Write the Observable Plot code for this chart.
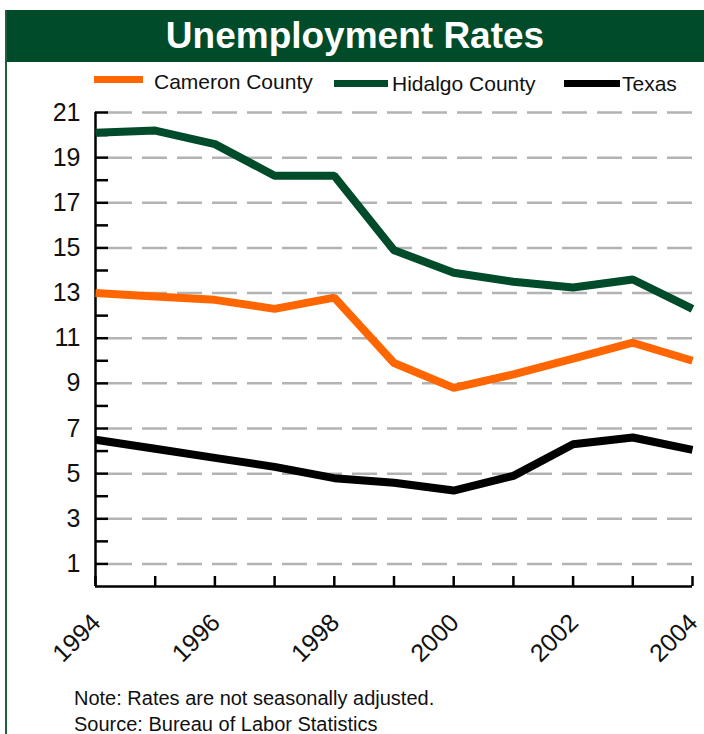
<!DOCTYPE html>
<html><head><meta charset="utf-8">
<script src="https://cdn.jsdelivr.net/npm/d3@7"></script>
<script src="https://cdn.jsdelivr.net/npm/@observablehq/plot@0.6"></script>
<style>
body{margin:0;background:#fff;font-family:"Liberation Sans",Arial,sans-serif;}
#wrap{position:relative;width:704px;height:734px;overflow:hidden;background:#fff;}
#chart{position:absolute;left:0;top:90px;}
#titlebar{position:absolute;left:5px;top:10px;width:720px;height:52px;background:#004B2A;z-index:2;}
#titlebar div{position:absolute;left:0;top:0;width:700px;text-align:center;color:#fff;font-weight:bold;font-size:37px;line-height:52px;}
#border{position:absolute;left:5px;top:10px;width:2px;height:724px;background:#1f5f3d;z-index:2;}
.sw{position:absolute;height:7px;z-index:2;}
.lt{position:absolute;font-size:21px;line-height:21px;color:#111;z-index:2;white-space:nowrap;}
.note{position:absolute;left:74px;font-size:20px;line-height:20px;color:#111;white-space:nowrap;}
</style></head>
<body>
<div id="wrap">
  <div id="titlebar"><div>Unemployment Rates</div></div>
  <div id="border"></div>
  <div class="sw" style="left:94px;top:76px;width:49px;background:#FF6600"></div>
  <div class="lt" style="left:154px;top:71px">Cameron County</div>
  <div class="sw" style="left:334px;top:80px;width:54px;background:#004B2A"></div>
  <div class="lt" style="left:392px;top:73px">Hidalgo County</div>
  <div class="sw" style="left:564px;top:80px;width:56px;background:#000"></div>
  <div class="lt" style="left:622px;top:73px">Texas</div>
  <div id="chart"></div>
  <div class="note" style="top:688px">Note: Rates are not seasonally adjusted.</div>
  <div class="note" style="top:714px">Source: Bureau of Labor Statistics</div>
</div>
<script>
const years = [1994,1995,1996,1997,1998,1999,2000,2001,2002,2003,2004];
const cameron = [13.0,12.85,12.7,12.3,12.8,9.9,8.8,9.4,10.1,10.8,10.0];
const hidalgo = [20.1,20.2,19.6,18.2,18.2,14.9,13.9,13.5,13.25,13.6,12.3];
const texas = [6.5,6.1,5.7,5.3,4.8,4.6,4.25,4.9,6.3,6.6,6.05];
const seriesNames = ["Cameron County","Hidalgo County","Texas"];
const seriesColors = ["#FF6600","#004B2A","#000000"];
const yLabelTicks = [1,3,5,7,9,11,13,15,17,19,21];
const yAllTicks = [1,2,3,4,5,6,7,8,9,10,11,12,13,14,15,16,17,18,19,20,21];
const xLabelTicks = [1994,1996,1998,2000,2002,2004];

const data = [];
const order = [["Hidalgo County", hidalgo],["Cameron County", cameron],["Texas", texas]];
for (const [name, vals] of order) years.forEach((yr,i)=>data.push({series:name, year:yr, value:vals[i]}));

const plot = Plot.plot({
  width: 704, height: 600,
  marginTop: 22, marginBottom: 104, marginLeft: 95, marginRight: 12,
  style: {fontFamily: '"Liberation Sans", Arial, sans-serif', color: "#111", background: "transparent", overflow: "visible"},
  x: {type: "linear", domain: [1994, 2004], label: null},
  y: {domain: [0, 21], label: null},
  color: {domain: seriesNames, range: seriesColors},
  marks: [
    Plot.ruleY(yLabelTicks, {x1: 1994, x2: 2004, stroke: "#b3b3b3", strokeWidth: 2.5, strokeDasharray: "25,10", strokeDashoffset: -12}),
    Plot.axisY({ticks: yAllTicks, tickSize: -13, tickFormat: () => "", stroke: "#000", strokeWidth: 2.5, label: null}),
    Plot.axisY({ticks: yLabelTicks, tickSize: 0, tickPadding: 15, fontSize: 25, fill: "#111", label: null}),
    Plot.axisX({ticks: years, tickSize: -10, tickFormat: () => "", stroke: "#000", strokeWidth: 2.5, label: null}),
    Plot.axisX({ticks: xLabelTicks, tickSize: 0, tickPadding: 32, tickRotate: -45, fontSize: 25, dx: 1, tickFormat: d => String(d), fill: "#111", label: null}),
    Plot.ruleX([1994], {y1: 0, y2: 21, stroke: "#000", strokeWidth: 2.5}),
    Plot.ruleY([0], {x1: 1994, x2: 2004, stroke: "#000", strokeWidth: 2.5}),
    Plot.line(data, {x: "year", y: "value", z: "series", stroke: "series", strokeWidth: 8, strokeLinejoin: "miter", strokeLinecap: "butt"})
  ]
});
document.getElementById("chart").appendChild(plot);
</script>
</body></html>
